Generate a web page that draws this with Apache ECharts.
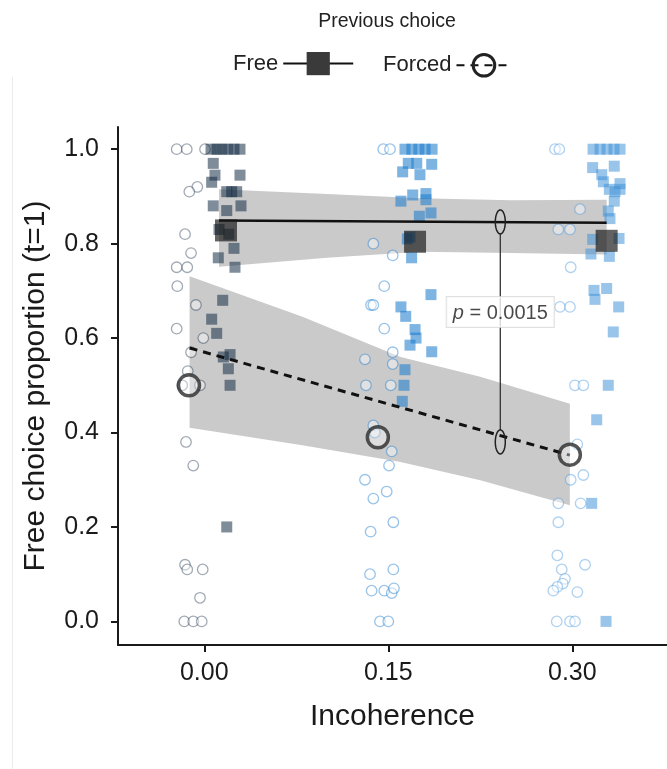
<!DOCTYPE html>
<html><head><meta charset="utf-8">
<script src="https://cdn.jsdelivr.net/npm/echarts@6/dist/echarts.min.js"></script>
<style>html,body{margin:0;padding:0;background:#fff}#c{width:667px;height:769px}</style>
</head><body><div id="c"></div><script>
const FONT = "'Liberation Sans', Arial, sans-serif";
// axis ticks
const xTicks = [0, 0.15, 0.3];
const yTicks = [0, 0.2, 0.4, 0.6, 0.8, 1.0];
// jittered individual points [incoherence, proportion]
const forced0 = [[-0.0225,1],[-0.0143,1],[0.0006,1],[-0.0057,0.92],[-0.0122,0.91],[-0.0157,0.82],[-0.0108,0.78],[-0.0225,0.75],[-0.0139,0.75],[-0.022,0.71],[-0.0068,0.67],[-0.0225,0.62],[-0.0008,0.6],[-0.0108,0.57],[-0.0135,0.53],[-0.0035,0.5],[-0.018,0.5],[-0.0149,0.38],[-0.009,0.33],[-0.0157,0.12],[-0.0139,0.11],[-0.0013,0.11],[-0.0035,0.05],[-0.0163,0],[-0.009,0],[-0.0021,0]];
const free0 = [[0.0055,1],[0.0104,1],[0.0144,1],[0.0193,1],[0.0242,1],[0.0291,1],[0.0073,0.97],[0.0087,0.945],[0.0291,0.945],[0.006,0.93],[0.0183,0.91],[0.0264,0.91],[0.0223,0.91],[0.0073,0.88],[0.0299,0.88],[0.0183,0.87],[0.012,0.83],[0.02,0.82],[0.0114,0.77],[0.0242,0.79],[0.025,0.75],[0.015,0.68],[0.006,0.64],[0.0101,0.61],[0.0155,0.56],[0.021,0.565],[0.0196,0.535],[0.021,0.5],[0.0183,0.2]];
const forced15 = [[0.1459,1],[0.1514,1],[0.1378,0.8],[0.1536,0.775],[0.1467,0.71],[0.1359,0.67],[0.1378,0.67],[0.1467,0.62],[0.1536,0.57],[0.131,0.555],[0.1536,0.545],[0.1318,0.5],[0.152,0.5],[0.1378,0.415],[0.139,0.4],[0.1528,0.36],[0.1506,0.33],[0.131,0.3],[0.1487,0.275],[0.1378,0.26],[0.1541,0.21],[0.1356,0.19],[0.1351,0.1],[0.1541,0.11],[0.1364,0.065],[0.1467,0.065],[0.1528,0.06],[0.1546,0.07],[0.1432,0],[0.15,0]];
const free15 = [[0.1636,1],[0.1692,1],[0.1749,1],[0.18,1],[0.1857,1],[0.1663,0.97],[0.1732,0.97],[0.1854,0.968],[0.1617,0.952],[0.1758,0.946],[0.1699,0.903],[0.1807,0.906],[0.1603,0.89],[0.1807,0.893],[0.1753,0.858],[0.1848,0.865],[0.1677,0.814],[0.1655,0.81],[0.169,0.77],[0.1848,0.692],[0.1603,0.666],[0.1642,0.646],[0.1718,0.618],[0.1726,0.6],[0.1677,0.585],[0.1854,0.571],[0.1636,0.533],[0.1628,0.5],[0.1614,0.466]];
const forced30 = [[0.2859,1],[0.2894,1],[0.3063,0.873],[0.2886,0.83],[0.2981,0.83],[0.2987,0.75],[0.29,0.666],[0.2981,0.666],[0.3022,0.5],[0.309,0.5],[0.3041,0.375],[0.309,0.31],[0.2987,0.3],[0.2886,0.25],[0.3068,0.25],[0.2886,0.21],[0.2878,0.14],[0.3104,0.12],[0.2914,0.11],[0.294,0.09],[0.2922,0.08],[0.2878,0.073],[0.2845,0.065],[0.3041,0.062],[0.2873,0],[0.2981,0],[0.3022,0]];
const free30 = [[0.3169,1],[0.3226,1],[0.3283,1],[0.334,1],[0.3389,1],[0.3166,0.961],[0.3342,0.964],[0.324,0.946],[0.3253,0.931],[0.3389,0.927],[0.3302,0.915],[0.3389,0.915],[0.3348,0.91],[0.3342,0.89],[0.3293,0.869],[0.3307,0.853],[0.3166,0.809],[0.3381,0.811],[0.3152,0.778],[0.3302,0.773],[0.3177,0.701],[0.3185,0.682],[0.328,0.705],[0.3378,0.666],[0.3334,0.613],[0.3293,0.5],[0.3199,0.427],[0.3158,0.25],[0.3275,0]];
// group means
const freeMeanX = [0.0177, 0.1718, 0.328];
const freeMeanY = [0.828, 0.804, 0.806];
const forcedMeanX = [-0.0125, 0.1415, 0.298];
const forcedMeanY = [0.5, 0.39, 0.353];
// regression fits
const freeFitX = [0.012, 0.328];
const freeFitY = [0.849, 0.844];
const forcedFitX = [-0.012, 0.298];
const forcedFitY = [0.579, 0.352];
// confidence bands
const freeBandX = [0.012, 0.10, 0.176, 0.25, 0.328];
const freeBandHi = [0.915, 0.905, 0.896, 0.892, 0.893];
const freeBandLo = [0.751, 0.77, 0.783, 0.780, 0.777];
const forcedBandX = [-0.012, 0.08, 0.16, 0.225, 0.298];
const forcedBandHi = [0.731, 0.645, 0.56, 0.518, 0.461];
const forcedBandLo = [0.41, 0.373, 0.3375, 0.299, 0.246];
// p-value annotation
const pX = 0.2413, pTop = 0.846, pBottom = 0.38, pLabelY = 0.655;
const pValue = '0.0015';

const zip = (xs, ys) => xs.map((x, i) => [x, ys[i]]);

function bandSeries(xs, hi, lo) {
  const data = xs.map((x, i) => [x, hi[i], lo[i]]);
  return {
    type: 'custom', silent: true, z: 1, data: data,
    encode: {x: 0, y: [1, 2]},
    renderItem(params, api) {
      if (params.dataIndex !== 0) return null;
      const pts = [];
      for (let i = 0; i < data.length; i++) pts.push(api.coord([data[i][0], data[i][1]]));
      for (let i = data.length - 1; i >= 0; i--) pts.push(api.coord([data[i][0], data[i][2]]));
      return {type: 'polygon', shape: {points: pts}, style: {fill: 'rgba(150,150,150,0.5)'}};
    }
  };
}
function circles(data, stroke) {
  return {type: 'scatter', silent: true, z: 3, data: data, symbol: 'circle', symbolSize: 10.5,
    itemStyle: {color: 'rgba(255,255,255,0.55)', borderColor: stroke, borderWidth: 1.3}};
}
function squares(data, fill) {
  return {type: 'scatter', silent: true, z: 3, data: data, symbol: 'rect', symbolSize: 11,
    itemStyle: {color: fill}};
}

const chart = echarts.init(document.getElementById('c'));
chart.setOption({
  animation: false,
  backgroundColor: '#fff',
  title: {text: 'Previous choice', left: 382, textAlign: 'center', top: 7,
    textStyle: {fontSize: 19.5, fontWeight: 'normal', color: '#222', fontFamily: FONT}},
  legend: [
    {data: [{name: 'Free', itemStyle: {color: '#3a3a3a', borderWidth: 0}}], left: 228, top: 47, align: 'right',
      itemWidth: 70, itemHeight: 29, itemGap: 0, selectedMode: false,
      textStyle: {fontSize: 22, color: '#222', fontFamily: FONT}},
    {data: [{name: 'Forced', itemStyle: {color: 'rgba(0,0,0,0)', borderColor: '#222', borderWidth: 3}}], left: 378, top: 48, align: 'right',
      itemWidth: 55, itemHeight: 27, itemGap: 0, selectedMode: false,
      textStyle: {fontSize: 22, color: '#222', fontFamily: FONT}}
  ],
  grid: {left: 118, right: 0, top: 127, bottom: 124},
  xAxis: {type: 'value', min: -0.07035, max: 0.3772,
    axisLine: {show: true, onZero: false, lineStyle: {color: '#1a1a1a', width: 2}},
    axisTick: {show: true, length: 7, customValues: xTicks, lineStyle: {color: '#1a1a1a', width: 2}},
    axisLabel: {customValues: xTicks, formatter: v => v.toFixed(2), fontSize: 25, color: '#1a1a1a', margin: 16, fontFamily: FONT},
    splitLine: {show: false},
    name: 'Incoherence', nameLocation: 'middle', nameGap: 57,
    nameTextStyle: {fontSize: 30, color: '#1a1a1a', fontFamily: FONT}},
  yAxis: {type: 'value', min: -0.05, max: 1.047,
    axisLine: {show: true, onZero: false, lineStyle: {color: '#1a1a1a', width: 2}},
    axisTick: {show: true, length: 7, customValues: yTicks, lineStyle: {color: '#1a1a1a', width: 2}},
    axisLabel: {customValues: yTicks, formatter: v => v.toFixed(1), fontSize: 25, color: '#1a1a1a', margin: 19, fontFamily: FONT},
    splitLine: {show: false},
    name: 'Free choice proportion (t=1)', nameLocation: 'middle', nameGap: 67,
    nameTextStyle: {fontSize: 30, color: '#1a1a1a', fontFamily: FONT}},
  graphic: [{type: 'line', silent: true, shape: {x1: 12.5, y1: 77, x2: 12.5, y2: 769}, style: {stroke: '#ececec', lineWidth: 1}}],
  series: [
    bandSeries(freeBandX, freeBandHi, freeBandLo),
    bandSeries(forcedBandX, forcedBandHi, forcedBandLo),
    circles(forced0, 'rgba(19,43,67,0.5)'),
    circles(forced15, 'rgba(40,130,210,0.6)'),
    circles(forced30, 'rgba(70,150,220,0.55)'),
    squares(free0, 'rgba(19,43,67,0.68)'),
    squares(free15, 'rgba(30,125,205,0.72)'),
    squares(free30, 'rgba(60,145,215,0.66)'),
    {name: 'Free', type: 'line', z: 5, silent: true, data: zip(freeFitX, freeFitY), symbol: 'rect', showSymbol: false,
      lineStyle: {color: '#111', width: 2.5}, itemStyle: {color: '#3a3a3a'}},
    {name: 'Forced', type: 'line', z: 5, silent: true, data: zip(forcedFitX, forcedFitY), symbol: 'circle', showSymbol: false,
      lineStyle: {color: '#111', width: 3, type: [8, 6]}, itemStyle: {color: '#222'}},
    {type: 'scatter', z: 6, silent: true, data: zip(freeMeanX, freeMeanY), symbol: 'rect', symbolSize: 22,
      itemStyle: {color: 'rgba(25,25,25,0.85)'}},
    {type: 'scatter', z: 6, silent: true, data: zip(forcedMeanX, forcedMeanY), symbol: 'circle', symbolSize: 21,
      itemStyle: {color: 'rgba(255,255,255,0.45)', borderColor: '#2a2a2a', borderWidth: 3.5}},
    {type: 'custom', z: 8, silent: true, data: [[pX, pTop, pBottom]], encode: {x: 0, y: [1, 2]},
      renderItem(params, api) {
        const t = api.coord([api.value(0), api.value(1)]);
        const b = api.coord([api.value(0), api.value(2)]);
        const rx = 5, ry = 12;
        const ell = c => {
          const pts = [];
          for (let k = 0; k < 48; k++) { const a = k / 48 * 2 * Math.PI; pts.push([c[0] + rx * Math.cos(a), c[1] + ry * Math.sin(a)]); }
          return {type: 'polygon', shape: {points: pts}, style: {fill: 'none', stroke: '#222', lineWidth: 1.5}};
        };
        return {type: 'group', children: [
          {type: 'line', shape: {x1: t[0], y1: t[1] + ry, x2: b[0], y2: b[1] - ry}, style: {stroke: '#333', lineWidth: 1.3}},
          ell(t), ell(b)]};
      }},
    {type: 'scatter', z: 10, silent: true, data: [[pX, pLabelY]], symbolSize: 1, itemStyle: {color: 'rgba(0,0,0,0)'},
      label: {show: true, position: 'inside', formatter: '{i|p} = ' + pValue, backgroundColor: '#fff',
        borderColor: '#d8d8d8', borderWidth: 1, padding: [6, 6, 4, 6], fontSize: 20, color: '#1a1a1a', fontFamily: FONT,
        rich: {i: {fontStyle: 'italic', fontSize: 20, color: '#1a1a1a', fontFamily: FONT}}}}
  ]
});
</script></body></html>
